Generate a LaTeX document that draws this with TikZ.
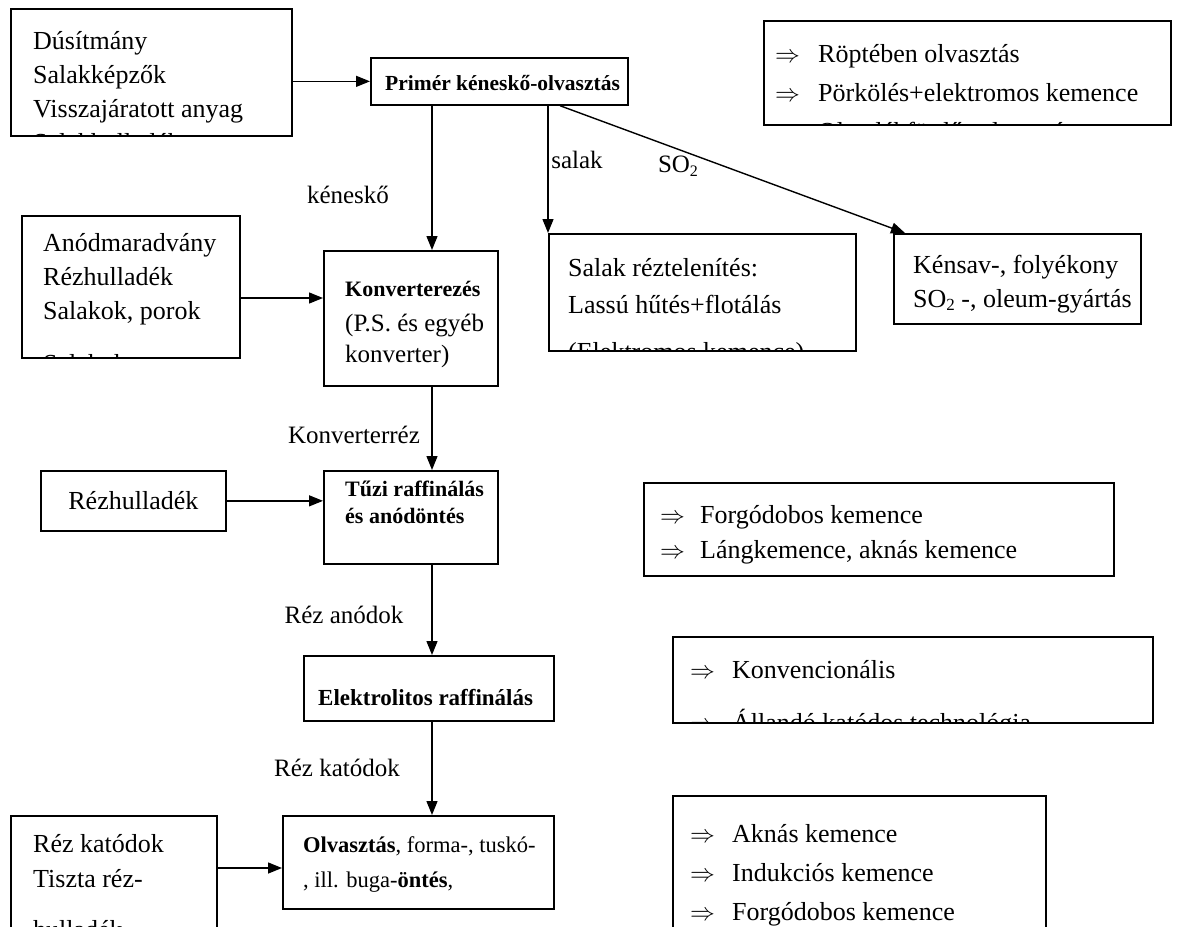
\documentclass[tikz,border=0pt]{standalone}
\usepackage{fontspec}
\setmainfont{Liberation Serif}
\usetikzlibrary{arrows.meta}
\begin{document}
\begin{tikzpicture}[x=1pt,y=-1pt,
  box/.style={draw, line width=1.7pt, inner sep=0pt, anchor=north west},
  ln/.style={anchor=base west, inner sep=0pt, font=\fontsize{26}{30}\selectfont},
  bln/.style={anchor=base west, inner sep=0pt, font=\fontsize{22}{26}\selectfont\bfseries},
  lbl/.style={inner sep=0pt, font=\fontsize{25}{30}\selectfont},
  arr/.style={line width=1.4pt, -{Triangle[length=14pt,width=11pt]}},
  imp/.style={anchor=base west, inner sep=0pt, font=\fontsize{24}{30}\selectfont}]
\clip (0,0) rectangle (1179,927);
\fill[white] (0,0) rectangle (1179,927);
% ---- boxes
\node[box, minimum width=281pt, minimum height=127pt] (A) at (10,8) {};
\node[box, minimum width=257pt, minimum height=47pt] (P1) at (370,57) {};
\node[box, minimum width=407pt, minimum height=104pt] (B) at (763,20) {};
\node[box, minimum width=218pt, minimum height=142pt] (C) at (21,215) {};
\node[box, minimum width=174pt, minimum height=135pt] (K) at (323,250) {};
\node[box, minimum width=307pt, minimum height=117pt] (S) at (548,233) {};
\node[box, minimum width=247pt, minimum height=90pt] (SO) at (893,233) {};
\node[box, minimum width=185pt, minimum height=60pt] (D) at (40,470) {};
\node[box, minimum width=174pt, minimum height=93pt] (T) at (323,470) {};
\node[box, minimum width=470pt, minimum height=93pt] (E) at (643,482) {};
\node[box, minimum width=250pt, minimum height=65pt] (El) at (303,655) {};
\node[box, minimum width=480pt, minimum height=86pt] (F) at (672,636) {};
\node[box, minimum width=206pt, minimum height=140pt] (G) at (10,815) {};
\node[box, minimum width=271pt, minimum height=93pt] (O) at (282,815) {};
\node[box, minimum width=373pt, minimum height=160pt] (H) at (672,795) {};
% ---- box texts
\begin{scope}
\clip (A.north west) rectangle (A.south east);
\node[ln] (a1) at (33,49) {Dúsítmány};
\node[ln] (a2) at (33,83) {Salakképzők};
\node[ln] (a3) at (33,117) {Visszajáratott anyag};
\node[ln] (a4) at (33,151) {Salakhulladék};
\end{scope}
\node[bln, font=\fontsize{21.5}{26}\selectfont\bfseries] (p1) at (385,90) {Primér kéneskő-olvasztás};
\begin{scope}
\clip (B.north west) rectangle (B.south east);
\node[imp] (b1i) at (775,62) {$\Rightarrow$};
\node[ln] (b1) at (818,62) {Röptében olvasztás};
\node[imp] (b2i) at (775,101) {$\Rightarrow$};
\node[ln] (b2) at (818,101) {Pörkölés+elektromos kemence};
\node[imp] (b3i) at (775,140) {$\Rightarrow$};
\node[ln] (b3) at (818,140) {Olvadékfürdős olvasztás};
\end{scope}
\begin{scope}
\clip (C.north west) rectangle (C.south east);
\node[ln] (c1) at (43,251) {Anódmaradvány};
\node[ln] (c2) at (43,285) {Rézhulladék};
\node[ln] (c3) at (43,319) {Salakok, porok};
\node[ln] (c4) at (43,372) {Salakok};
\end{scope}
\node[bln] (k1) at (345,296) {Konverterezés};
\node[ln, font=\fontsize{25}{30}\selectfont] (k2) at (345,331) {(P.S. és egyéb};
\node[ln, font=\fontsize{25}{30}\selectfont] (k3) at (345,362) {konverter)};
\begin{scope}
\clip (S.north west) rectangle (S.south east);
\node[ln] (s1) at (568,276) {Salak réztelenítés:};
\node[ln] (s2) at (568,313) {Lassú hűtés+flotálás};
\node[ln] (s3) at (568,360) {(Elektromos kemence)};
\end{scope}
\node[ln] (so1) at (913,273) {Kénsav-, folyékony};
\node[ln] (so2) at (913,307) {SO\raisebox{-0.3ex}{\fontsize{17}{18}\selectfont 2} -, oleum-gyártás};
\node[lbl, font=\fontsize{26}{30}\selectfont] (d1) at (D.center) {Rézhulladék};
\node[bln] (t1) at (345,496) {Tűzi raffinálás};
\node[bln] (t2) at (345,523) {és anódöntés};
\node[imp] (e1i) at (660,523) {$\Rightarrow$};
\node[ln] (e1) at (700,523) {Forgódobos kemence};
\node[imp] (e2i) at (660,558) {$\Rightarrow$};
\node[ln] (e2) at (700,558) {Lángkemence, aknás kemence};
\node[bln, font=\fontsize{23}{26}\selectfont\bfseries] (el1) at (318,705) {Elektrolitos raffinálás};
\begin{scope}
\clip (F.north west) rectangle (F.south east);
\node[imp] (f1i) at (690,678) {$\Rightarrow$};
\node[ln] (f1) at (732,678) {Konvencionális};
\node[imp] (f2i) at (690,731) {$\Rightarrow$};
\node[ln] (f2) at (732,731) {Állandó katódos technológia};
\end{scope}
\node[ln] (g1) at (33,852) {Réz katódok};
\node[ln] (g2) at (33,887) {Tiszta réz-};
\node[ln] (g3) at (33,938) {hulladék};
\node[ln, font=\fontsize{22.5}{30}\selectfont] (o1) at (303,852) {\textbf{Olvasztás}, forma-, tuskó-};
\node[ln, font=\fontsize{22.5}{30}\selectfont] (o2) at (303,887) {, ill. buga-\textbf{öntés},};
\node[imp] (h1i) at (690,842) {$\Rightarrow$};
\node[ln] (h1) at (732,842) {Aknás kemence};
\node[imp] (h2i) at (690,881) {$\Rightarrow$};
\node[ln] (h2) at (732,881) {Indukciós kemence};
\node[imp] (h3i) at (690,920) {$\Rightarrow$};
\node[ln] (h3) at (732,920) {Forgódobos kemence};
% ---- flow labels
\node[lbl] (lk) at (348,195) {kéneskő};
\node[lbl] (ls) at (577,160) {salak};
\node[lbl] (lso) at (678,166) {SO\raisebox{-0.3ex}{\fontsize{16}{18}\selectfont 2}};
\node[lbl] (lkr) at (354,435) {Konverterréz};
\node[lbl] (lra) at (344,615) {Réz anódok};
\node[lbl] (lrk) at (337,768) {Réz katódok};
% ---- connectors
\draw[arr] (A.east |- P1.west) -- (P1.west);
\draw[arr] (P1.south -| 432,0) -- (K.north -| 432,0);
\draw[arr] (P1.south -| 548,0) -- (S.north west);
\draw[arr] (P1.south -| 560,0) -- (SO.north -| 905,0);
\draw[arr] (C.east |- 0,298) -- (K.west |- 0,298);
\draw[arr] (K.south -| 432,0) -- (T.north -| 432,0);
\draw[arr] (D.east) -- (T.west |- D.east);
\draw[arr] (T.south -| 432,0) -- (El.north -| 432,0);
\draw[arr] (El.south -| 432,0) -- (O.north -| 432,0);
\draw[arr] (G.east |- 0,868) -- (O.west |- 0,868);
\end{tikzpicture}
\end{document}
